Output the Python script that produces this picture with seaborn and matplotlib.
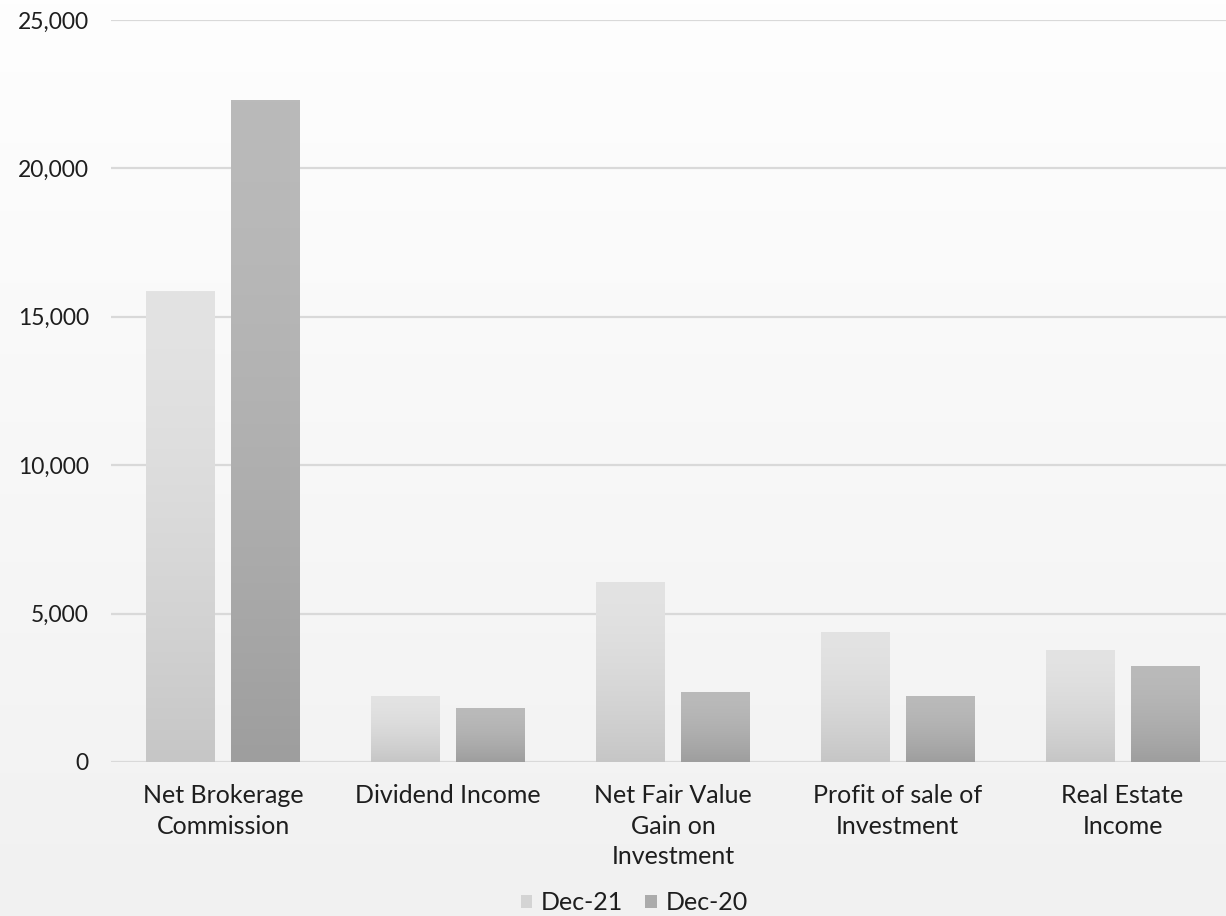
import numpy as np
import pandas as pd
import matplotlib
matplotlib.use("Agg")
import matplotlib.pyplot as plt
import seaborn as sns
from matplotlib.patches import Patch
from matplotlib.ticker import FuncFormatter

categories = ["Net Brokerage\nCommission", "Dividend Income", "Net Fair Value\nGain on\nInvestment",
              "Profit of sale of\nInvestment", "Real Estate\nIncome"]
series_names = ["Dec-21", "Dec-20"]
dec21 = [15860, 2230, 6050, 4370, 3760]
dec20 = [22310, 1815, 2350, 2230, 3225]
yticks = [0, 5000, 10000, 15000, 20000, 25000]

df = pd.DataFrame({
    "category": categories * 2,
    "series": [series_names[0]] * len(categories) + [series_names[1]] * len(categories),
    "value": dec21 + dec20,
})

sns.set_theme(style="white")
plt.rcParams["font.family"] = ["Lato", "DejaVu Sans"]

W, H = 1226, 916
fig = plt.figure(figsize=(W / 100, H / 100), dpi=100)

# background gradient
bg = fig.add_axes([0, 0, 1, 1], zorder=-10)
top_c = np.array([0xfe, 0xfe, 0xfe]) / 255
bot_c = np.array([0xf1, 0xf1, 0xf1]) / 255
t = np.linspace(0, 1, 256)[:, None]
grad = top_c[None, :] * (1 - t) + bot_c[None, :] * t
bg.imshow(grad[:, None, :], aspect="auto", extent=[0, 1, 0, 1])
bg.axis("off")

left, right, top, bottom = 111, 1226, 20, 762
ax = fig.add_axes([left / W, (H - bottom) / H, (right - left) / W, (bottom - top) / H])
ax.patch.set_alpha(0)

colors = {"Dec-21": ("#e3e3e3", "#c6c6c6"), "Dec-20": ("#bababa", "#9e9e9e")}
sns.barplot(data=df, x="category", y="value", hue="series", order=categories,
            hue_order=series_names, width=0.756, gap=0.188, ax=ax, legend=False,
            palette={k: v[0] for k, v in colors.items()}, edgecolor="none", saturation=1)

def hex2rgb(h):
    return np.array([int(h[i:i + 2], 16) for i in (1, 3, 5)]) / 255

n = len(categories)
for i, p in enumerate(list(ax.patches)):
    s = series_names[i // n]
    c0, c1 = hex2rgb(colors[s][0]), hex2rgb(colors[s][1])
    tt = np.linspace(0, 1, 200)[:, None] ** 1.6
    g = c0[None, :] * (1 - tt) + c1[None, :] * tt
    x, y, w, h = p.get_x(), p.get_y(), p.get_width(), p.get_height()
    im = ax.imshow(g[:, None, :], aspect="auto", extent=[x, x + w, y, y + h], zorder=2)
    im.set_clip_path(p)
    p.set_facecolor("none")

ax.set_xlim(-0.5, 4.46)
ax.set_ylim(0, 25000)
ax.set_yticks(yticks)
ax.yaxis.set_major_formatter(FuncFormatter(lambda v, _: f"{int(v):,}"))
ax.grid(axis="y", color="#d9d9d9", linewidth=1.6, zorder=0)
ax.set_axisbelow(True)
for sp in ax.spines.values():
    sp.set_visible(False)
ax.tick_params(axis="both", length=0, labelcolor="#1e1e1e")
ax.tick_params(axis="y", pad=16, labelsize=16.5)
ax.tick_params(axis="x", pad=16, labelsize=18)
ax.set_xlabel("")
ax.set_ylabel("")
for lbl in ax.get_xticklabels():
    lbl.set_linespacing(1.4)

handles = [Patch(facecolor="#d4d4d4", edgecolor="none", label="Dec-21"),
           Patch(facecolor="#ababab", edgecolor="none", label="Dec-20")]
fig.legend(handles=handles, loc="center", bbox_to_anchor=(634 / W, 1 - 903 / H), ncol=2,
           frameon=False, fontsize=18, handlelength=0.45, handleheight=0.45,
           handletextpad=0.35, columnspacing=0.9, labelcolor="#1e1e1e",
           borderpad=0, borderaxespad=0)

fig.savefig("out.png", dpi=100)
